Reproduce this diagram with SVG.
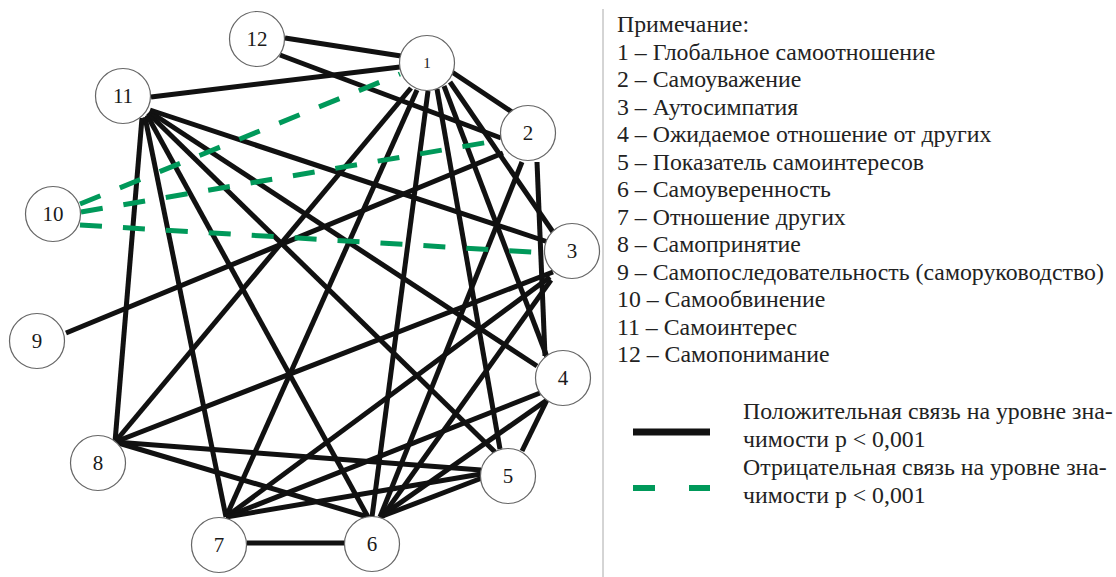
<svg xmlns="http://www.w3.org/2000/svg" width="1116" height="577" viewBox="0 0 1116 577">
<style>
.e{stroke:#111;stroke-width:5;fill:none;stroke-linecap:butt}
.n{stroke:#111;stroke-width:5;stroke-dasharray:22 21;fill:none}
.g{stroke:#00995a}
.c{fill:#fff;stroke:#666;stroke-width:1.2}
.t{font-size:21px;fill:#1a1a1a;text-anchor:middle}
.l{font-size:23.8px;fill:#222}
</style>
<rect width="1116" height="577" fill="#fff"/>
<g id="connectors">
<line class="e" x1="285" y1="38" x2="401" y2="56"/>
<line class="e" x1="280" y1="55" x2="501" y2="138"/>
<line class="e" x1="151" y1="97" x2="400" y2="67"/>
<line class="e" x1="142" y1="118" x2="115" y2="442"/>
<line class="e" x1="145" y1="117" x2="226" y2="517"/>
<line class="e" x1="147" y1="115" x2="368" y2="517"/>
<line class="e" x1="148" y1="113" x2="495" y2="452"/>
<line class="e" x1="150" y1="112" x2="537" y2="366"/>
<line class="e" x1="150" y1="110" x2="548" y2="242"/>
<line class="e" x1="411" y1="88" x2="115" y2="442"/>
<line class="e" x1="417" y1="90" x2="226" y2="517"/>
<line class="e" x1="428" y1="91" x2="372" y2="517"/>
<line class="e" x1="437" y1="89" x2="500" y2="449"/>
<line class="e" x1="444" y1="86" x2="547" y2="357"/>
<line class="e" x1="450" y1="82" x2="553" y2="232"/>
<line class="e" x1="452" y1="72" x2="512" y2="112"/>
<line class="e" x1="66" y1="333" x2="503" y2="153"/>
<line class="e" x1="522" y1="162" x2="380" y2="517"/>
<line class="e" x1="537" y1="162" x2="545" y2="356"/>
<line class="e" x1="553" y1="272" x2="115" y2="442"/>
<line class="e" x1="550" y1="277" x2="226" y2="517"/>
<line class="e" x1="551" y1="280" x2="382" y2="517"/>
<line class="e" x1="540" y1="393" x2="226" y2="517"/>
<line class="e" x1="547" y1="400" x2="380" y2="517"/>
<line class="e" x1="547" y1="400" x2="522" y2="451"/>
<line class="e" x1="115" y1="442" x2="481" y2="470"/>
<line class="e" x1="115" y1="442" x2="368" y2="517"/>
<line class="e" x1="226" y1="517" x2="481" y2="474"/>
<line class="e" x1="247" y1="543" x2="345" y2="543"/>
<line class="e" x1="482" y1="478" x2="380" y2="517"/>
<line class="n g" x1="80" y1="204" x2="400" y2="74"/>
<line class="n g" x1="81" y1="212" x2="501" y2="140"/>
<line class="n g" x1="80" y1="225" x2="547" y2="253"/>
</g>
<g font-family="'Liberation Serif', 'DejaVu Serif', serif">
<g id="node1"><circle class="c" cx="427" cy="63" r="27.5"/><text class="t" x="427" y="68" style="font-size:15px">1</text></g>
<g id="node2"><circle class="c" cx="528" cy="133" r="27.5"/><text class="t" x="528" y="140">2</text></g>
<g id="node3"><circle class="c" cx="572" cy="251" r="27.5"/><text class="t" x="572" y="258">3</text></g>
<g id="node4"><circle class="c" cx="563" cy="378" r="27.5"/><text class="t" x="563" y="385">4</text></g>
<g id="node5"><circle class="c" cx="508" cy="476" r="27.5"/><text class="t" x="508" y="483">5</text></g>
<g id="node6"><circle class="c" cx="372" cy="544" r="27.5"/><text class="t" x="372" y="551">6</text></g>
<g id="node7"><circle class="c" cx="219" cy="545" r="27.5"/><text class="t" x="219" y="552">7</text></g>
<g id="node8"><circle class="c" cx="98" cy="463" r="27.5"/><text class="t" x="98" y="470">8</text></g>
<g id="node9"><circle class="c" cx="37" cy="341" r="27.5"/><text class="t" x="37" y="348">9</text></g>
<g id="node10"><circle class="c" cx="53" cy="214" r="27.5"/><text class="t" x="53" y="221">10</text></g>
<g id="node11"><circle class="c" cx="123" cy="96" r="27.5"/><text class="t" x="123" y="103">11</text></g>
<g id="node12"><circle class="c" cx="257" cy="39" r="27.5"/><text class="t" x="257" y="46">12</text></g>
<g id="legend">
<line x1="603" y1="9" x2="603" y2="577" stroke="#aaa" stroke-width="1"/>
<text class="l" x="617" y="32">Примечание:</text>
<text class="l" x="617" y="60">1 – Глобальное самоотношение</text>
<text class="l" x="617" y="87">2 – Самоуважение</text>
<text class="l" x="617" y="115">3 – Аутосимпатия</text>
<text class="l" x="617" y="142">4 – Ожидаемое отношение от других</text>
<text class="l" x="617" y="170">5 – Показатель самоинтересов</text>
<text class="l" x="617" y="197">6 – Самоуверенность</text>
<text class="l" x="617" y="225">7 – Отношение других</text>
<text class="l" x="617" y="252">8 – Самопринятие</text>
<text class="l" x="617" y="280">9 – Самопоследовательность (саморуководство)</text>
<text class="l" x="617" y="307">10 – Самообвинение</text>
<text class="l" x="617" y="335">11 – Самоинтерес</text>
<text class="l" x="617" y="362">12 – Самопонимание</text>
<line x1="633" y1="432" x2="710" y2="432" stroke="#111" stroke-width="7"/>
<line x1="633" y1="488" x2="710" y2="488" stroke="#00995a" stroke-width="6" stroke-dasharray="22 34"/>
<text class="l" x="743" y="419">Положительная связь на уровне зна-</text>
<text class="l" x="743" y="447">чимости p &lt; 0,001</text>
<text class="l" x="743" y="475">Отрицательная связь на уровне зна-</text>
<text class="l" x="743" y="503">чимости p &lt; 0,001</text>
</g>
</g>
</svg>
